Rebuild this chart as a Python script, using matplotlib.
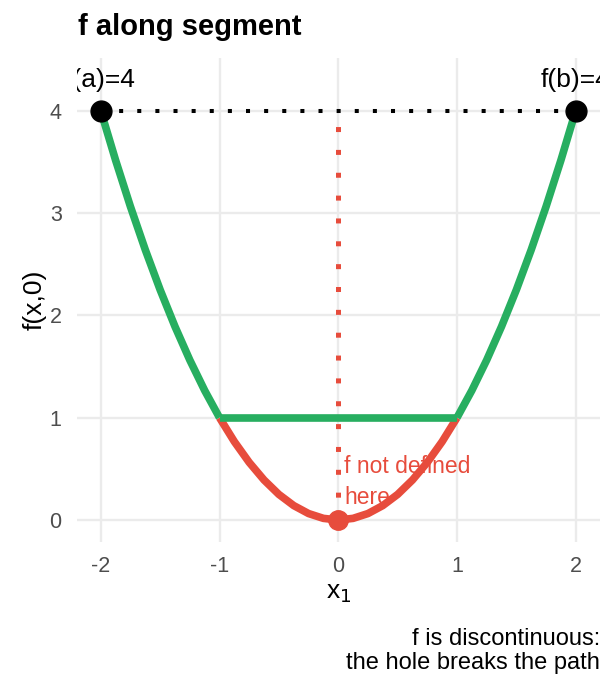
import numpy as np
import matplotlib
matplotlib.use("Agg")
import matplotlib.pyplot as plt

plt.rcParams['font.family'] = ['Liberation Sans', 'DejaVu Sans']

# values
x_left = [-2.0, -1.875, -1.75, -1.625, -1.5, -1.375, -1.25, -1.125, -1.0]
y_left = [4.0, 3.516, 3.063, 2.641, 2.25, 1.891, 1.563, 1.266, 1.0]
x_right = [1.0, 1.125, 1.25, 1.375, 1.5, 1.625, 1.75, 1.875, 2.0]
y_right = [1.0, 1.266, 1.563, 1.891, 2.25, 2.641, 3.063, 3.516, 4.0]
x_flat = [-1.0, 1.0]
y_flat = [1.0, 1.0]
x_hole = [-1.0, -0.875, -0.75, -0.625, -0.5, -0.375, -0.25, -0.125, 0.0,
          0.125, 0.25, 0.375, 0.5, 0.625, 0.75, 0.875, 1.0]
y_hole = [1.0, 0.766, 0.563, 0.391, 0.25, 0.141, 0.063, 0.016, 0.0,
          0.016, 0.063, 0.141, 0.25, 0.391, 0.563, 0.766, 1.0]
ends_x = [-2.0, 2.0]
ends_y = [4.0, 4.0]
end_labels = ["f(a)=4", "f(b)=4"]
hole_x = [0.0]
hole_y = [0.0]
label_y = 4.3
x_ticks = [-2, -1, 0, 1, 2]
y_ticks = [0, 1, 2, 3, 4]

GREEN = "#27AE60"
RED = "#E74C3C"

fig = plt.figure(figsize=(6.14, 6.91), dpi=100)
W, H = 614, 691
ax = fig.add_axes([77 / W, 1 - 542 / H, (599.5 - 77) / W, (542 - 58) / H])

ax.set_xlim(-2.2, 2.2)
ax.set_ylim(-0.215, 4.515)

# grid
for v in x_ticks:
    ax.axvline(v, color="#EBEBEB", lw=1.7, zorder=0)
for v in y_ticks:
    ax.axhline(v, color="#EBEBEB", lw=1.7, zorder=0)

# dotted guides
ax.plot(ends_x, ends_y, color="black", lw=2.9,
        linestyle=(0, (1, 3.5)), dash_capstyle="butt", zorder=2)
ax.plot([hole_x[0], hole_x[0]], [0.0, 4.0], color=RED, lw=3.6,
        linestyle=(0, (1, 3.57)), dash_capstyle="butt", zorder=2)

ax.text(0.05, 0.37, "f not defined\nhere", color=RED, fontsize=16.5,
        ha="left", va="center", linespacing=1.45, zorder=2)

# path
ax.plot(x_hole, y_hole, color=RED, lw=5.5, solid_capstyle="butt", zorder=3)
for xs, ys in [(x_left, y_left), (x_right, y_right), (x_flat, y_flat)]:
    ax.plot(xs, ys, color=GREEN, lw=5.5, solid_capstyle="butt",
            solid_joinstyle="round", zorder=4)

ax.plot(hole_x, hole_y, "o", color=RED, ms=14, zorder=5)
ax.plot(ends_x, ends_y, "o", color="black", ms=15, zorder=5)
for xv, lab in zip(ends_x, end_labels):
    t = ax.text(xv, label_y, lab, ha="center", va="center", fontsize=19,
                zorder=5)
    t.set_clip_on(True)
    t.set_clip_box(ax.bbox)

for s in ax.spines.values():
    s.set_visible(False)
ax.set_xticks(x_ticks)
ax.set_xticklabels([str(v) for v in x_ticks])
ax.set_yticks(y_ticks)
ax.set_yticklabels([str(v) for v in y_ticks])
ax.tick_params(length=0, labelsize=15.5, labelcolor="#4D4D4D")
ax.tick_params(axis="x", pad=10)
ax.tick_params(axis="y", pad=11)
ax.set_xlabel("x$_1$", fontsize=19, labelpad=3)
ax.set_ylabel("f(x,0)", fontsize=19, labelpad=2)

fig.text(78 / W, 1 - 27 / H, "f along segment", fontsize=21, fontweight="bold",
         ha="left", va="center")
fig.text(600 / W, 1 - 651 / H, "f is discontinuous:\nthe hole breaks the path",
         fontsize=17, ha="right", va="center", linespacing=1.12)

fig.savefig("out.png", dpi=100)
